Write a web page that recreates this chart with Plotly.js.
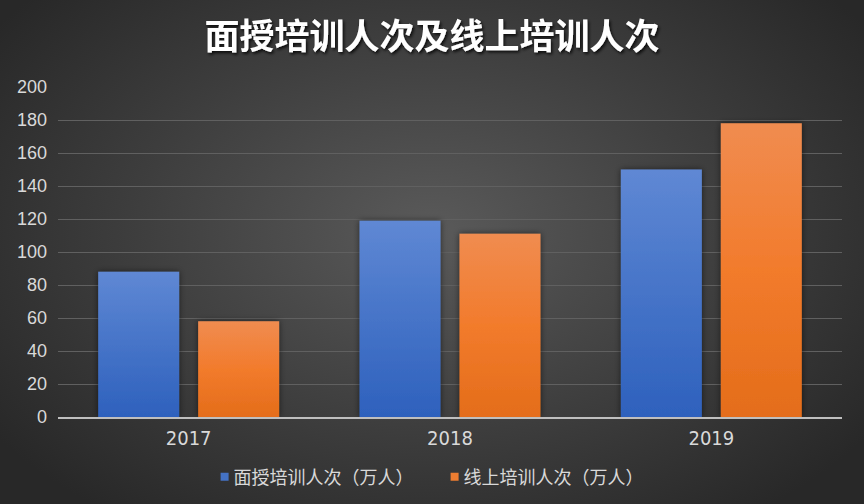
<!DOCTYPE html>
<html>
<head>
<meta charset="utf-8">
<script src="https://cdn.plot.ly/plotly-3.0.1.min.js"></script>
<style>
  html, body { margin: 0; padding: 0; }
  body {
    width: 864px; height: 504px; overflow: hidden;
    background: radial-gradient(ellipse 62% 70% at 50% 46%, #5a5a5a 0%, #3e3e3e 55%, #282828 100%);
  }
  #chart { width: 864px; height: 504px; }
</style>
</head>
<body>
<div id="chart"></div>
<script>
const years = ['2017', '2018', '2019'];
const faceToFace = [88, 119, 150];
const online = [58, 111, 178];
const seriesNames = ['面授培训人次（万人）', '线上培训人次（万人）'];
const titleText = '面授培训人次及线上培训人次';
const yTicks = [0, 20, 40, 60, 80, 100, 120, 140, 160, 180, 200];

const cjk = 'Noto Sans CJK SC, Noto Sans, sans-serif';
const narrow = 'Liberation Sans Narrow, DejaVu Sans Condensed, Liberation Sans, sans-serif';

const traces = [
  { type: 'bar', x: years, y: faceToFace, name: seriesNames[0],
    marker: { color: '#4472c4', line: { width: 0 } }, hoverinfo: 'y' },
  { type: 'bar', x: years, y: online, name: seriesNames[1],
    marker: { color: '#ed7d31', line: { width: 0 } }, hoverinfo: 'y' }
];

const layout = {
  width: 864, height: 504,
  paper_bgcolor: 'rgba(0,0,0,0)',
  plot_bgcolor: 'rgba(0,0,0,0)',
  margin: { l: 58, r: 22, t: 87, b: 87 },
  barmode: 'group',
  bargap: 0.235,
  bargroupgap: 0.19,
  font: { family: cjk, color: '#d9d9d9', size: 16 },
  title: {
    text: '<b>' + titleText + '</b>',
    font: { family: cjk, size: 35, color: '#ffffff' },
    x: 0.5, xanchor: 'center', y: 0.927, yanchor: 'middle'
  },
  xaxis: {
    type: 'category',
    showgrid: false, zeroline: false,
    showline: true, linecolor: '#bfbfbf', linewidth: 2,
    ticks: '', tickfont: { family: narrow, size: 20, color: '#d9d9d9' },
    ticklabelstandoff: 2
  },
  yaxis: {
    range: [0, 200], tickvals: yTicks,
    showgrid: true, gridcolor: '#606060', gridwidth: 1,
    zeroline: false, showline: false, ticks: '',
    tickfont: { family: 'Liberation Sans, Arial, sans-serif', size: 18, color: '#d9d9d9' },
    ticklabelstandoff: 10
  },
  legend: {
    orientation: 'h', x: 0.187, xanchor: 'left',
    yref: 'container', y: 0.0536, yanchor: 'middle',
    entrywidth: 185, entrywidthmode: 'pixels',
    font: { family: cjk, size: 18, color: '#d9d9d9' },
    bgcolor: 'rgba(0,0,0,0)'
  },
  showlegend: true
};

Plotly.newPlot('chart', traces, layout, { displayModeBar: false, staticPlot: true }).then(function (gd) {
  const NS = 'http://www.w3.org/2000/svg';
  const svg = gd.querySelector('svg.main-svg');
  let defs = svg.querySelector('defs');
  if (!defs) { defs = document.createElementNS(NS, 'defs'); svg.insertBefore(defs, svg.firstChild); }
  function grad(id, stops) {
    const g = document.createElementNS(NS, 'linearGradient');
    g.setAttribute('id', id);
    g.setAttribute('x1', '0'); g.setAttribute('y1', '0');
    g.setAttribute('x2', '0'); g.setAttribute('y2', '1');
    stops.forEach(function (s) {
      const st = document.createElementNS(NS, 'stop');
      st.setAttribute('offset', s[0]);
      st.setAttribute('stop-color', s[1]);
      g.appendChild(st);
    });
    defs.appendChild(g);
  }
  grad('gBlue', [['0', '#5f88d4'], ['0.5', '#4674c8'], ['1', '#2e61bd']]);
  grad('gOrange', [['0', '#f08c50'], ['0.5', '#f27b2c'], ['1', '#e46d1a']]);
  const f = document.createElementNS(NS, 'filter');
  f.setAttribute('id', 'barShadow');
  f.setAttribute('x', '-20%'); f.setAttribute('y', '-20%');
  f.setAttribute('width', '140%'); f.setAttribute('height', '140%');
  const ds = document.createElementNS(NS, 'feDropShadow');
  ds.setAttribute('dx', '0'); ds.setAttribute('dy', '0');
  ds.setAttribute('stdDeviation', '3');
  ds.setAttribute('flood-color', '#000'); ds.setAttribute('flood-opacity', '0.55');
  f.appendChild(ds);
  defs.appendChild(f);
  const tf = document.createElementNS(NS, 'filter');
  tf.setAttribute('id', 'titleShadow');
  const tds = document.createElementNS(NS, 'feDropShadow');
  tds.setAttribute('dx', '1.5'); tds.setAttribute('dy', '2');
  tds.setAttribute('stdDeviation', '1.5');
  tds.setAttribute('flood-color', '#000'); tds.setAttribute('flood-opacity', '0.8');
  tf.appendChild(tds);
  defs.appendChild(tf);

  const ids = ['gBlue', 'gOrange'];
  gd.querySelectorAll('.barlayer .trace').forEach(function (tr, i) {
    tr.querySelectorAll('path').forEach(function (p) {
      p.style.fill = 'url(#' + ids[i] + ')';
      p.setAttribute('filter', 'url(#barShadow)');
    });
  });
  const t = gd.querySelector('.gtitle');
  if (t) t.setAttribute('filter', 'url(#titleShadow)');

  // compact legend entries: small square, text right next to it
  gd.querySelectorAll('.legend .traces').forEach(function (item) {
    item.querySelectorAll('.legendpoints path').forEach(function (p) {
      p.setAttribute('d', 'M4,4H-4V-4H4Z');
    });
    const txt = item.querySelector('text.legendtext');
    if (txt) txt.setAttribute('x', '29');
  });
});
</script>
</body>
</html>
